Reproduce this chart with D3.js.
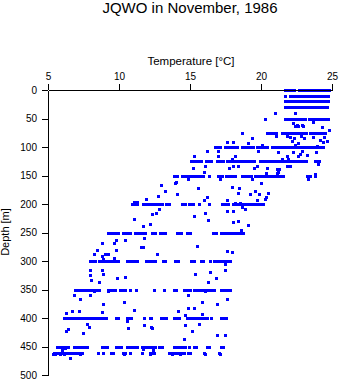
<!DOCTYPE html>
<html>
<head>
<meta charset="utf-8">
<script src="https://cdn.jsdelivr.net/npm/d3@7"></script>
<style>
  html, body { margin: 0; padding: 0; background: #fff; }
  svg { display: block; }
  text { font-family: "Liberation Sans", Arial, Helvetica, sans-serif; fill: #000; }
</style>
</head>
<body>
<svg id="chart" width="341" height="384"></svg>
<script>
// ---------- data ----------
const title = "JQWO in November, 1986";
const xLabel = "Temperature [°C]";
const yLabel = "Depth [m]";
const tempTicks = [5, 10, 15, 20, 25];
const depthTicks = [0, 50, 100, 150, 200, 250, 300, 350, 400, 450, 500];

// sample depths [m] with many measurements
const rowDepths = [0, 10, 20, 30, 50, 75, 100, 125, 150, 200, 250, 300, 350, 400, 450, 461];

const temps0 = [21.7, 21.9, 22.05, 22.2, 22.35, 22.65, 22.8, 22.95, 23.1, 23.2, 23.35, 23.5, 23.65, 23.8, 23.95, 24.1, 24.25, 24.4, 24.55, 24.7, 24.8];
const temps10 = [21.7, 22.05, 22.2, 22.35, 22.5, 22.65, 22.8, 22.95, 23.1, 23.2, 23.35, 23.5, 23.65, 23.8, 23.95, 24.1, 24.25, 24.4, 24.55, 24.7];
const temps20 = [21.7, 21.85, 22.0, 22.15, 22.3, 22.45, 22.6, 22.75, 22.9, 23.05, 23.2, 23.35, 23.5, 23.65, 23.8, 23.95, 24.1, 24.25, 24.4, 24.55, 24.7];
const temps30 = [21.7, 21.85, 22.0, 22.2, 22.35, 22.5, 22.65, 22.8, 22.95, 23.1, 23.25, 23.4, 23.6, 23.75, 23.9, 24.05, 24.2, 24.35, 24.5, 24.65];
const temps50 = [20.3, 21.7, 21.9, 22.05, 22.2, 22.35, 22.5, 22.65, 22.8, 22.95, 23.1, 23.35, 23.5, 23.65, 23.8, 23.95, 24.1, 24.25, 24.4, 24.55, 24.7];
const temps75 = [18.65, 20.4, 20.55, 20.75, 20.9, 21.05, 21.45, 21.6, 21.75, 21.9, 22.05, 22.2, 22.35, 22.5, 22.65, 22.8, 22.95, 23.1, 23.2, 23.45, 23.6, 23.75, 23.9, 24.05, 24.2, 24.35, 24.5];
const temps100 = [16.75, 16.95, 17.1, 17.45, 17.6, 17.8, 17.95, 18.1, 18.3, 18.65, 18.8, 18.95, 19.1, 19.3, 19.45, 19.75, 19.9, 20.1, 20.25, 20.4, 20.75, 20.9, 21.05, 21.2, 21.35, 21.5, 21.65, 21.8, 21.95, 22.1, 22.25, 22.4, 22.55, 22.7, 22.85, 23.0, 23.15, 23.3, 23.45, 23.6, 23.75, 23.9, 24.05, 24.2, 24.35];
const temps125 = [15.1, 15.25, 15.5, 15.65, 15.8, 16.1, 16.25, 16.4, 16.5, 16.9, 17.05, 17.2, 17.35, 17.6, 17.75, 17.9, 18.05, 18.15, 18.4, 18.6, 18.8, 18.95, 19.1, 19.2, 19.35, 19.5, 19.9, 20.05, 20.25, 20.4, 20.55, 20.7, 20.85, 21.0, 21.15, 21.3, 21.45, 21.6, 21.75, 21.9, 22.05, 22.2, 22.35, 22.5, 22.65, 22.8, 22.95, 23.1, 23.2, 23.8, 23.95, 24.1];
const temps150 = [13.85, 14.05, 14.45, 14.65, 14.8, 14.95, 15.1, 15.25, 15.45, 15.6, 15.75, 15.9, 16.35, 16.95, 17.1, 17.25, 17.5, 17.65, 17.8, 17.95, 18.15, 18.65, 18.85, 19.1, 19.3, 19.6, 19.75, 19.9, 20.05, 20.2, 20.35, 20.5, 20.65, 20.8, 20.95, 21.1, 21.25, 21.4, 21.55, 23.25, 23.45, 23.8];
const temps200 = [10.9, 11.1, 11.3, 11.7, 11.9, 12.05, 12.25, 12.45, 12.65, 12.85, 13.05, 13.3, 13.5, 14.45, 14.65, 14.9, 15.05, 15.2, 15.65, 16.35, 17.25, 17.45, 17.65, 18.0, 18.15, 18.3, 18.45, 18.6, 18.75, 18.9, 19.05, 19.25, 19.4, 19.55, 19.7, 19.95, 20.15];
const temps250 = [9.25, 9.45, 9.65, 9.8, 9.95, 10.3, 10.45, 10.6, 10.8, 11.1, 11.25, 11.4, 11.55, 11.7, 11.85, 12.3, 12.5, 12.9, 13.05, 13.25, 14.05, 14.2, 14.4, 14.8, 15.0, 16.65, 16.8, 17.2, 17.35, 17.5, 17.65, 17.8, 17.95, 18.1, 18.25, 18.4, 18.55, 18.7];
const temps300 = [7.95, 8.1, 8.3, 8.6, 8.75, 8.9, 9.05, 9.2, 9.4, 9.55, 9.7, 9.95, 10.55, 10.8, 10.95, 11.1, 11.25, 11.9, 12.05, 12.2, 12.35, 12.5, 13.1, 13.25, 13.95, 14.15, 15.05, 15.25, 15.8, 15.95, 16.4, 16.7, 16.85, 17.0, 17.15, 17.3, 17.45, 17.6, 17.75, 17.85];
const temps350 = [6.9, 7.05, 7.2, 7.35, 7.5, 7.65, 7.9, 8.05, 8.2, 8.35, 8.6, 9.25, 9.4, 9.55, 9.7, 10.1, 10.25, 10.4, 10.8, 11.2, 12.45, 13.15, 13.85, 14.0, 14.55, 14.7, 14.85, 15.0, 15.25, 15.4, 15.65, 15.8, 15.95, 16.1, 16.25, 16.4, 16.55, 16.7, 17.2, 17.35, 17.5, 17.65, 17.8];
const temps400 = [6.1, 6.25, 6.4, 6.55, 6.7, 6.85, 7.0, 7.15, 7.3, 7.45, 7.6, 7.75, 7.9, 8.05, 8.2, 8.35, 8.55, 8.7, 8.85, 9.05, 9.8, 9.95, 10.55, 10.7, 10.85, 11.75, 12.15, 12.25, 12.95, 13.1, 13.3, 13.9, 14.05, 14.25, 14.8, 14.95, 15.1, 15.25, 15.4, 15.55, 15.7, 15.85, 16.05, 16.2, 16.5, 17.2, 17.35, 17.5];
const temps450 = [5.6, 5.75, 5.9, 6.05, 6.2, 6.4, 6.8, 6.95, 7.1, 7.25, 7.4, 7.55, 7.75, 8.8, 8.95, 9.15, 9.8, 9.95, 10.15, 10.55, 10.7, 10.85, 11.0, 11.15, 11.3, 11.6, 11.75, 11.95, 12.1, 12.25, 12.4, 12.55, 12.85, 13.0, 13.9, 14.05, 14.2, 14.35, 14.5, 14.65, 14.9, 15.3, 15.45, 16.2, 16.35, 17.2, 17.35];
const temps461 = [5.4, 5.5, 5.6, 5.7, 5.8, 5.9, 6.0, 6.1, 6.2, 6.3, 6.5, 6.65, 6.8, 6.95, 7.2, 7.4, 8.55, 8.9, 9.45, 9.6, 10.25, 10.4, 10.75, 11.6, 12.15, 12.3, 12.45, 13.5, 13.65, 13.8, 13.95, 14.1, 14.25, 14.4, 14.55, 14.85, 15.0, 16.0, 17.05];

const rowTemps = [temps0, temps10, temps20, temps30, temps50, temps75, temps100, temps125, temps150, temps200, temps250, temps300, temps350, temps400, temps450, temps461];

// individual measurements between standard depths: [temperature, depth]
const scatterPoints = [
  [21.0,40],[22.4,40],[22.27,58],[22.51,61],[22.87,61],[22.39,63],[22.63,64],[22.98,64],[23.64,57],[24.32,65],[24.81,70],
  [21.81,81],[22.04,83],[22.32,85],[22.82,81],[23.05,85],[22.16,90],[22.63,93],[22.39,96],[23.68,82],[24.44,83],[24.15,88],[24.39,92],[23.96,98],[24.67,90],[19.34,84],[19.1,93],[21.06,80],[17.58,92],[18.05,92],[20.05,96],
  [19.81,107],[21.2,108],[22.27,109],[22.75,113],[23.22,114],[23.85,109],[16.18,107],[16.99,107],[22.9,107],[15.3,115],[16.99,115],[18.17,115],[21.81,115],[22.63,115],[17.94,121],[21.45,121],[21.92,121],
  [16.06,133],[18.05,133],[18.4,133],[19.7,133],[21.8,133],[22.05,133],[24.0,130],[15.2,137],[17.75,137],[19.5,137],[20.4,137],[21.1,138],[21.3,138],[16.0,143],[21.2,143],[20.35,145],[21.1,145],
  [14.88,157],[17.11,157],[19.34,157],[23.33,157],[23.8,148],[13.94,163],[19.98,163],[17.98,170],[15.58,172],[18.47,172],[19.58,177],[18.4,180],[20.51,180],[14.06,183],[19.23,183],[19.86,183],[16.18,188],[20.35,188],[16.0,193],[17.58,193],[19.7,193],[18.2,198],[18.5,198],[20.28,191],[12.98,167],[13.24,177],[12.77,186],[11.88,192],[11.05,197],[11.3,197],[14.0,161],
  [18.64,205],[18.87,209],[17.58,212],[18.05,212],[16.08,215],[15.3,221],[16.29,228],[18.4,229],[18.05,232],[19.1,237],[18.6,245],[12.8,209],[12.6,216],[12.35,218],[11.08,227],[12.18,235],[11.67,239],
  [11.78,260],[9.77,263],[10.42,263],[8.78,268],[9.67,269],[8.47,281],[9.77,281],[9.01,288],[9.25,288],[8.26,288],[8.78,291],[11.53,276],[11.71,276],[9.67,295],[8.9,297],[15.51,274],[12.7,288],[17.6,282],[17.98,285],
  [7.96,316],[7.96,325],[8.78,315],[8.9,323],[8.0,333],[8.61,336],[9.88,329],[10.42,328],[17.49,306],[15.33,322],[16.38,320],[17.49,316],[16.85,330],[16.27,337],
  [6.85,360],[7.25,366],[7.96,360],[8.26,352],[9.25,352],[8.9,376],[10.38,372],[11.08,386],[8.78,389],[6.67,388],[7.18,388],[6.29,392],[14.86,360],[16.07,353],[17.6,367],[15.85,372],[16.9,376],[14.15,388],[14.86,383],[15.3,383],[14.67,395],[15.85,393],
  [10.58,405],[7.72,411],[7.89,415],[6.43,419],[6.27,422],[7.49,427],[10.65,418],[11.78,413],[12.25,416],[15.66,411],[14.67,413],[12.32,417],[15.14,423],[14.6,436],[16.9,430],[17.49,430],
  [5.96,456],[6.2,452],[6.55,471],[7.25,464],[11.67,454],[12.37,456],[5.85,464],[5.5,463],[13.73,464],[14.32,464],[16.04,464],[17.09,464],[5.33,463],[6.15,463],[10.35,463],[12.18,463]
];

// ---------- chart ----------
const svg = d3.select("#chart");
svg.append("rect").attr("width", 341).attr("height", 384).attr("fill", "#fff");

const x = d3.scaleLinear().domain([5, 25]).range([48, 332]);
const y = d3.scaleLinear().domain([0, 500]).range([90, 375]);

const points = rowDepths.flatMap((d, i) => rowTemps[i].map(t => ({ t, d })))
  .concat(scatterPoints.map(([t, d]) => ({ t, d })));

svg.append("g")
  .selectAll("rect")
  .data(points)
  .join("rect")
  .attr("x", p => Math.round(x(p.t)) - 1)
  .attr("y", p => Math.round(y(p.d)) - 1)
  .attr("width", 3)
  .attr("height", 3)
  .attr("fill", "#0000ff")
  .attr("shape-rendering", "crispEdges");

const xAxis = svg.append("g")
  .attr("transform", "translate(0,90)")
  .call(d3.axisTop(x).tickValues(tempTicks).tickFormat(d3.format("d")).tickSize(6).tickSizeOuter(0).tickPadding(4));
const yAxis = svg.append("g")
  .attr("transform", "translate(48,0)")
  .call(d3.axisLeft(y).tickValues(depthTicks).tickFormat(d3.format("d")).tickSize(6).tickSizeOuter(0).tickPadding(5));

[xAxis, yAxis].forEach(g => {
  g.selectAll("path, line").attr("stroke", "#000").attr("shape-rendering", "crispEdges");
  g.selectAll("text").attr("font-size", 10).attr("font-family", "\"Liberation Sans\", Arial, sans-serif").attr("fill", "#000");
});

svg.append("text")
  .attr("x", 190).attr("y", 13)
  .attr("text-anchor", "middle")
  .attr("font-size", 15)
  .text(title);

svg.append("text")
  .attr("x", 191).attr("y", 65)
  .attr("text-anchor", "middle")
  .attr("font-size", 11.5)
  .text(xLabel);

svg.append("text")
  .attr("transform", "translate(9,232) rotate(-90)")
  .attr("text-anchor", "middle")
  .attr("font-size", 11)
  .text(yLabel);
</script>
</body>
</html>
